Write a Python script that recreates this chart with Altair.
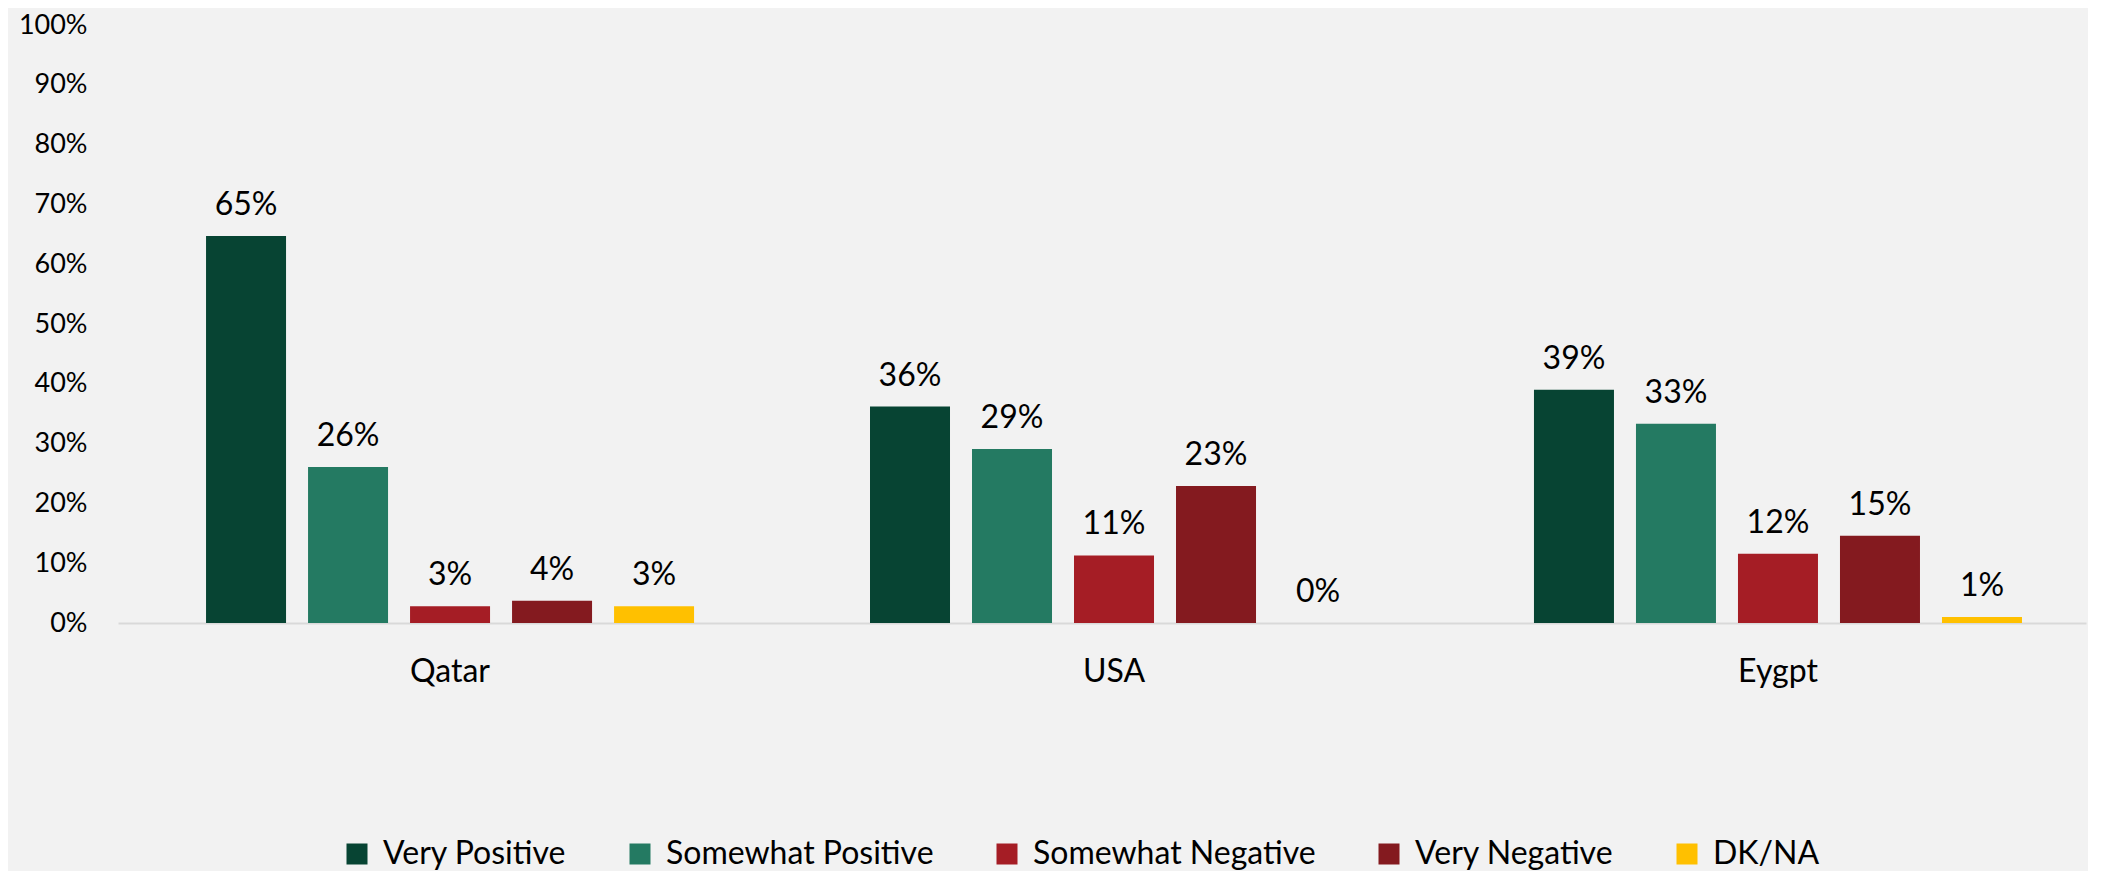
import altair as alt
import pandas as pd

countries = ["Qatar", "USA", "Eygpt"]
categories = ["Very Positive", "Somewhat Positive", "Somewhat Negative", "Very Negative", "DK/NA"]
colors = ["#074433", "#247A62", "#A51D25", "#841A1F", "#FFC000"]

qatar = [64.7, 26.1, 2.8, 3.7, 2.8]
usa = [36.2, 29.1, 11.3, 22.9, 0.0]
egypt = [39.0, 33.3, 11.6, 14.6, 1.0]

y_ticks = [0, 0.1, 0.2, 0.3, 0.4, 0.5, 0.6, 0.7, 0.8, 0.9, 1.0]

rows = []
for c, vals in zip(countries, [qatar, usa, egypt]):
    for cat, v in zip(categories, vals):
        rows.append({"country": c, "category": cat, "value": v / 100.0})
df = pd.DataFrame(rows)

FONT = "Lato"

x_enc = alt.X(
    "country:N",
    sort=countries,
    title=None,
    scale=alt.Scale(paddingInner=0.265, paddingOuter=0.1145, align=0.579),
    axis=alt.Axis(
        labelAngle=0, ticks=False, tickSize=0, labelPadding=33,
        labelFontSize=32, labelFont=FONT, labelColor="#000000",
        domainColor="#d9d9d9", domainWidth=2, grid=False,
    ),
)
xoff = alt.XOffset(
    "category:N", sort=categories,
    scale=alt.Scale(paddingInner=0.2157, paddingOuter=0),
)
y_enc = alt.Y(
    "value:Q",
    title=None,
    scale=alt.Scale(domain=[0, 1], nice=False),
    axis=alt.Axis(
        values=y_ticks, format=".0%", ticks=False, tickSize=0, domain=False,
        grid=False, labelPadding=31, labelFontSize=27, labelFont=FONT,
        labelColor="#000000",
    ),
)

bars = alt.Chart(df).mark_bar().encode(
    x=x_enc,
    xOffset=xoff,
    y=y_enc,
    color=alt.Color(
        "category:N",
        sort=categories,
        scale=alt.Scale(domain=categories, range=colors),
        legend=alt.Legend(
            title=None, orient="none", direction="horizontal", columns=5,
            legendX=223, legendY=813, symbolType="square", symbolSize=441,
            symbolStrokeWidth=0, labelFontSize=32, labelFont=FONT,
            labelColor="#000000", labelOffset=10, columnPadding=57,
            padding=0, labelLimit=400,
        ),
    ),
)

labels = alt.Chart(df).mark_text(
    baseline="alphabetic", dy=-21, fontSize=32, font=FONT, color="#000000"
).encode(
    x=alt.X("country:N", sort=countries),
    xOffset=alt.XOffset("category:N", sort=categories),
    y=alt.Y("value:Q"),
    text=alt.Text("value:Q", format=".0%"),
)

chart = alt.layer(bars, labels).properties(
    width=1968,
    height=598,
    background="#f2f2f2",
    autosize=alt.AutoSizeParams(type="none"),
    padding={"left": 110, "top": 17, "right": 2, "bottom": 248},
).configure_view(stroke=None)

chart.save("out.html", embed_options={"renderer": "svg", "actions": False})
